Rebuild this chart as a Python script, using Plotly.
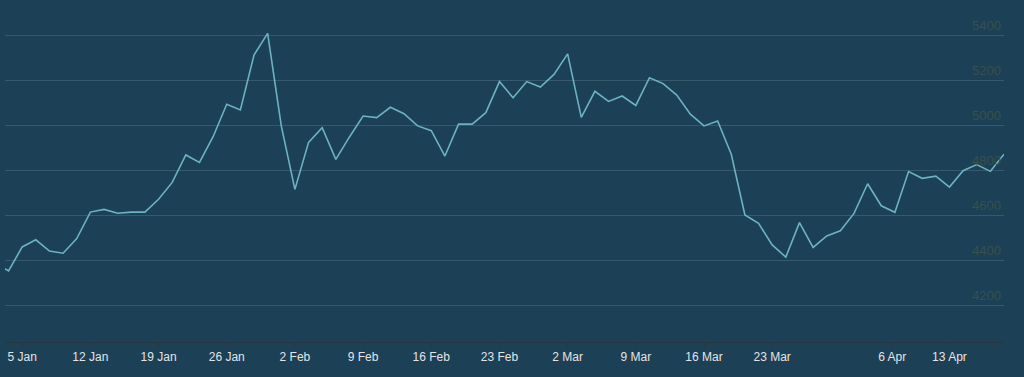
import pandas as pd
import plotly.graph_objects as go

# Trading calendar (weekends, New Year, Good Friday and Easter Monday excluded)
holidays = ["2015-01-01", "2015-04-03", "2015-04-06"]
dates = ["2014-12-31"] + [d.strftime("%Y-%m-%d") for d in pd.bdate_range("2015-01-02", "2015-04-17")
                          if d.strftime("%Y-%m-%d") not in holidays]

values = [
    4385,
    4352, 4458, 4490, 4440, 4430, 4495, 4613, 4625, 4608, 4613,
    4613, 4670, 4745, 4867, 4834, 4948, 5092, 5067, 5311, 5407,
    4996, 4714, 4923, 4988, 4847, 4947, 5040, 5033, 5079, 5050,
    4996, 4975, 4862, 5004, 5004, 5055, 5193, 5121, 5193, 5169,
    5225, 5316, 5034, 5150, 5105, 5129, 5087, 5210, 5184, 5133,
    5048, 4996, 5018, 4870, 4600, 4563, 4467, 4413, 4566, 4456,
    4507, 4530, 4607, 4739, 4641, 4612, 4793, 4763, 4773, 4724,
    4797, 4824, 4794, 4870,
]

tick_vals = ["2015-01-05", "2015-01-12", "2015-01-19", "2015-01-26", "2015-02-02",
             "2015-02-09", "2015-02-16", "2015-02-23", "2015-03-02", "2015-03-09",
             "2015-03-16", "2015-03-23", "2015-04-02 19:12", "2015-04-13"]
tick_text = ["5 Jan", "12 Jan", "19 Jan", "26 Jan", "2 Feb", "9 Feb", "16 Feb",
             "23 Feb", "2 Mar", "9 Mar", "16 Mar", "23 Mar", "6 Apr", "13 Apr"]

y_ticks = [4200, 4400, 4600, 4800, 5000, 5200, 5400]

BG = "#1c4056"

fig = go.Figure(go.Scatter(
    x=dates, y=values, mode="lines",
    line=dict(color="#6db2c0", width=1.6),
    hoverinfo="skip", showlegend=False,
))

fig.update_layout(
    width=1024, height=377,
    margin=dict(l=5, r=20, t=0, b=35),
    paper_bgcolor=BG, plot_bgcolor=BG,
    font=dict(family="Liberation Sans, Arial, sans-serif", size=12),
)

fig.update_xaxes(
    type="date",
    range=["2014-12-31 17:45", "2015-04-17"],
    rangebreaks=[dict(bounds=["sat", "mon"]), dict(values=holidays)],
    tickmode="array", tickvals=tick_vals, ticktext=tick_text,
    showgrid=False, zeroline=False,
    showline=True, linecolor="#29363e", linewidth=1,
    ticks="outside", ticklen=4, tickcolor="#29363e",
    tickfont=dict(color="#e4e4e4", size=12),
)

fig.update_yaxes(
    range=[4035.6, 5555.6],
    side="right",
    tickmode="array", tickvals=y_ticks,
    ticklabelposition="inside top",
    tickfont=dict(color="#3a504a", size=13),
    showgrid=True, gridcolor="#38596c", gridwidth=1,
    zeroline=False, showline=False, ticks="",
)

fig.write_html("out.html")
